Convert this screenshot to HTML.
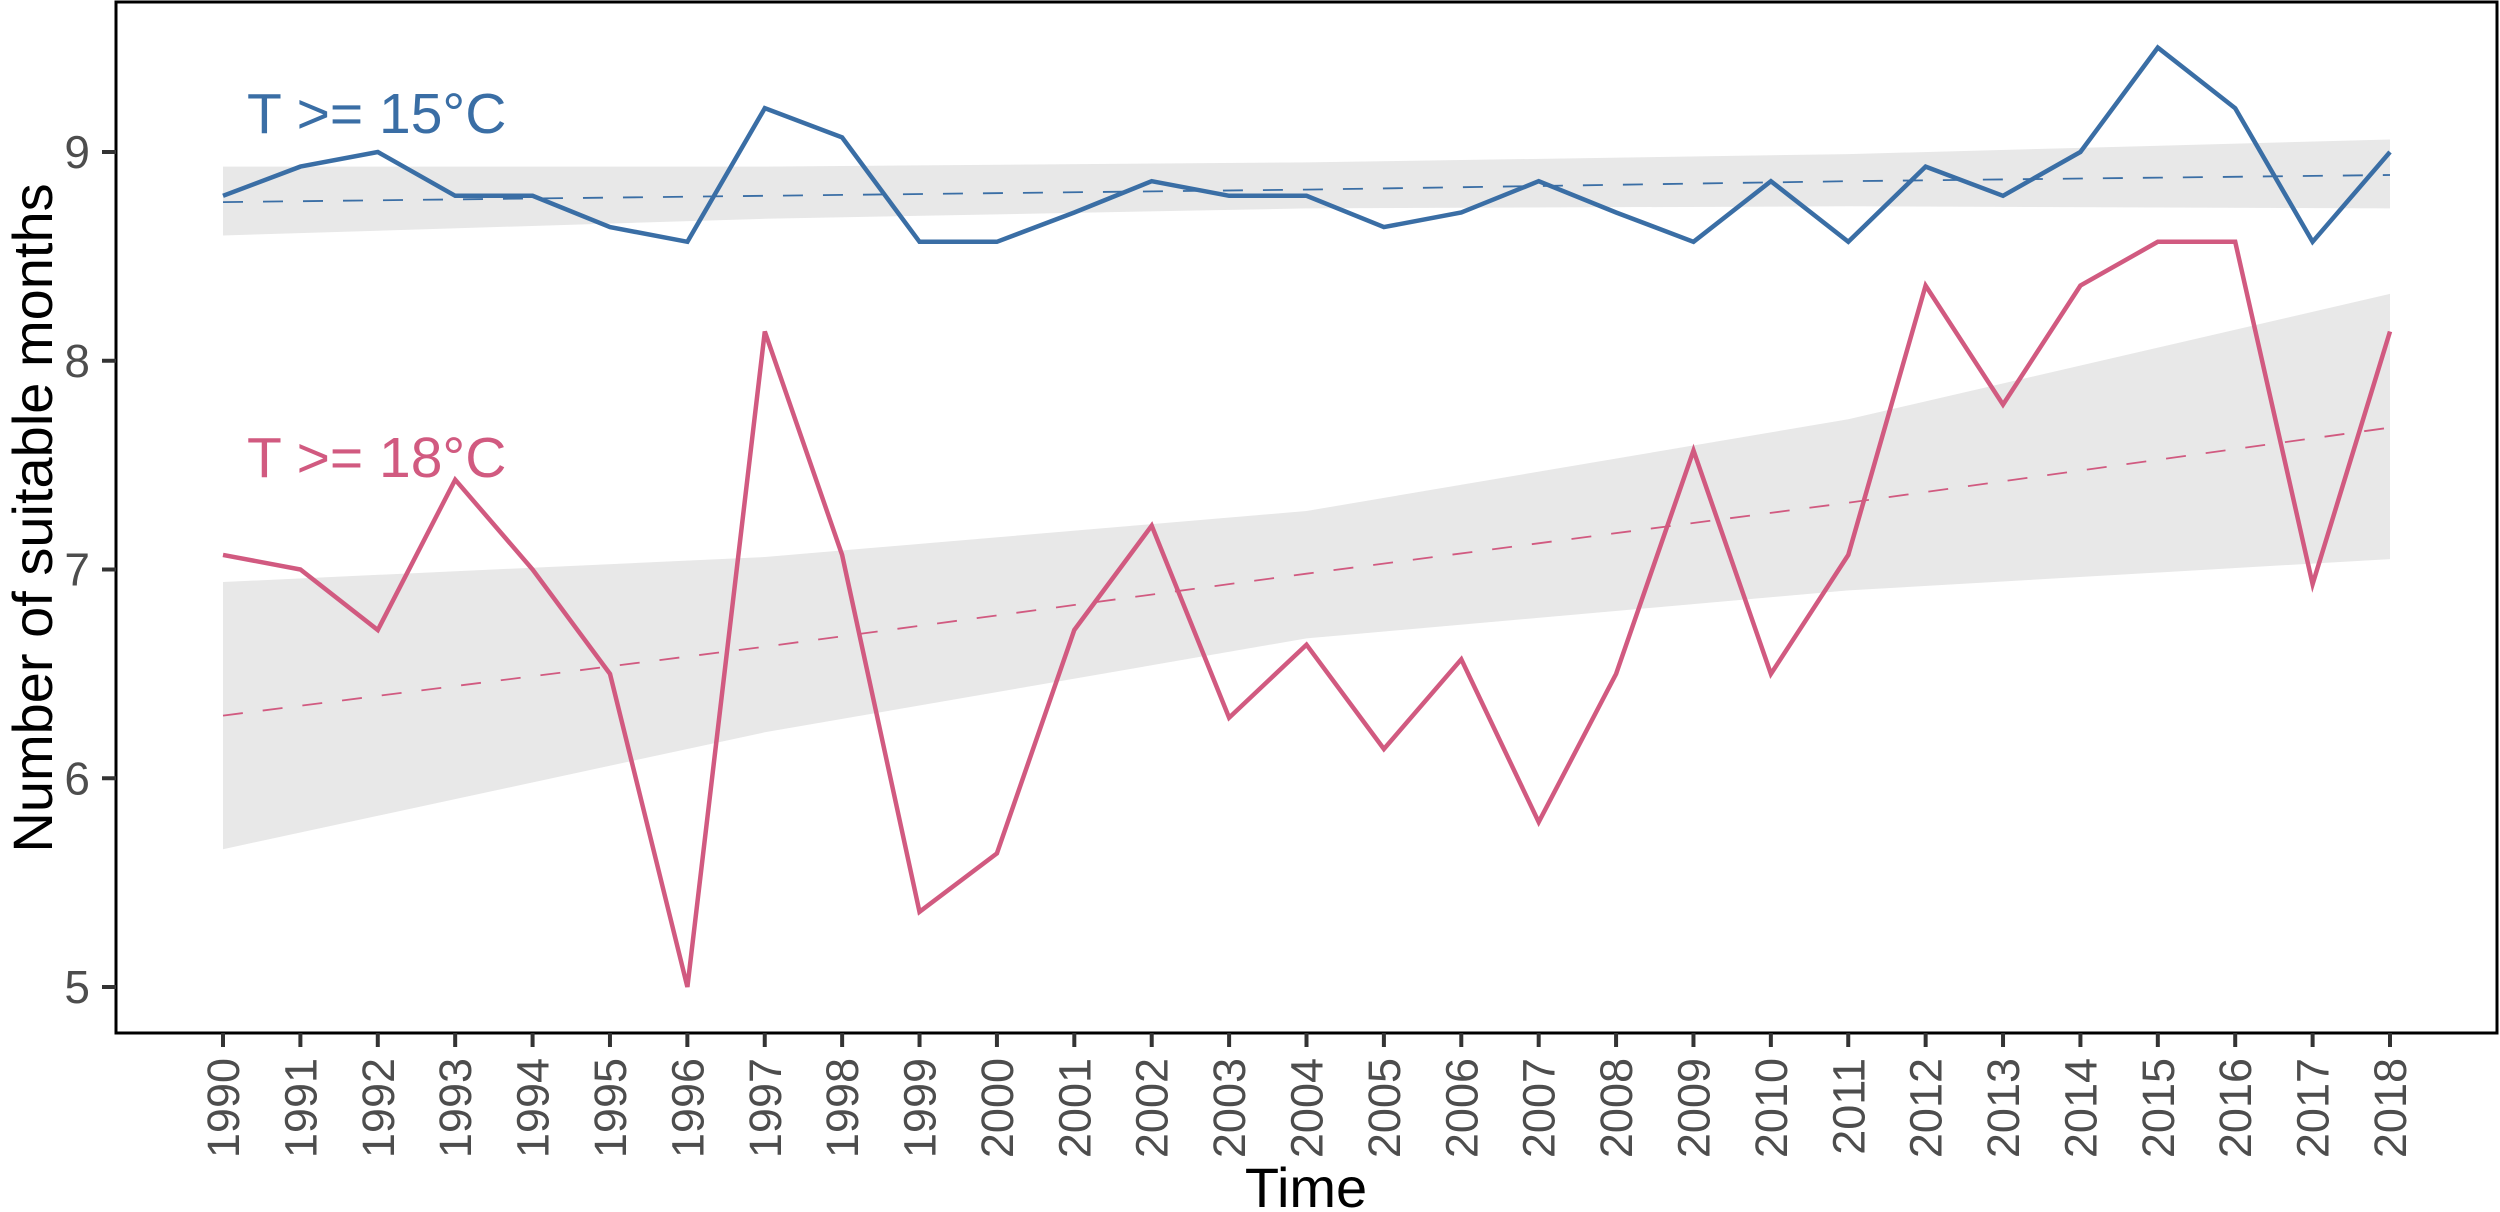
<!DOCTYPE html>
<html><head><meta charset="utf-8"><style>
html,body{margin:0;padding:0;background:#fff;}
svg{display:block;font-family:"Liberation Sans",Arial,sans-serif;}
</style></head><body>
<svg id="chart" width="2500" height="1212" viewBox="0 0 2500 1212">
<rect x="0" y="0" width="2500" height="1212" fill="#fff"/>
<g id="ribbons"></g>
<g id="trends"></g>
<g id="series"></g>
<rect x="116" y="2" width="2381" height="1031" fill="none" stroke="#000" stroke-width="3"/>
<g id="yaxis"></g>
<g id="xaxis"></g>
<text x="247" y="133" font-size="57" fill="#3A6EA5">T &gt;= 15°C</text>
<text x="247" y="477" font-size="57" fill="#D15A80">T &gt;= 18°C</text>
<text x="1306" y="1207" font-size="56" text-anchor="middle" fill="#000">Time</text>
<text x="0" y="0" font-size="56" text-anchor="middle" fill="#000" transform="translate(52,518) rotate(-90)">Number of suitable months</text>
</svg>
<script>
const years=[1990,1991,1992,1993,1994,1995,1996,1997,1998,1999,2000,2001,2002,2003,2004,2005,2006,2007,2008,2009,2010,2011,2012,2013,2014,2015,2016,2017,2018];
const blueValues=[8.79,8.93,9.0,8.79,8.79,8.64,8.57,9.21,9.07,8.57,8.57,8.71,8.86,8.79,8.79,8.64,8.71,8.86,8.71,8.57,8.86,8.57,8.93,8.79,9.0,9.5,9.21,8.57,9.0];
const pinkValues=[7.07,7.0,6.71,7.43,7.0,6.5,5.0,8.14,7.07,5.36,5.64,6.71,7.21,6.29,6.64,6.14,6.57,5.79,6.5,7.57,6.5,7.07,8.36,7.79,8.36,8.57,8.57,6.93,8.14];
const fitYears=[1990,1997,2004,2011,2018];
const blueFit=[8.76,8.79,8.82,8.86,8.89];
const blueUpper=[8.93,8.93,8.95,8.99,9.06];
const blueLower=[8.60,8.68,8.73,8.74,8.73];
const pinkFit=[6.30,6.63,6.98,7.32,7.68];
const pinkUpper=[6.94,7.06,7.28,7.72,8.32];
const pinkLower=[5.66,6.22,6.67,6.90,7.05];
const yTicks=[5,6,7,8,9];
const BLUE="#3A6EA5",PINK="#D15A80";
const NS="http://www.w3.org/2000/svg";
function xs(y){return 223+(y-1990)*(2390-223)/28;}
function ys(v){return 987-(v-5)*(987-152)/4;}
function mk(t,attrs,parent){const e=document.createElementNS(NS,t);for(const k in attrs)e.setAttribute(k,attrs[k]);parent.appendChild(e);return e;}
function pts(xa,va){return xa.map((x,i)=>xs(x).toFixed(1)+","+ys(va[i]).toFixed(1)).join(" ");}
const rib=document.getElementById('ribbons'),tr=document.getElementById('trends'),se=document.getElementById('series');
[[blueUpper,blueLower,'ribbon-15c'],[pinkUpper,pinkLower,'ribbon-18c']].forEach(([u,l,n])=>{
  const p=pts(fitYears,u)+" "+pts(fitYears.slice().reverse(),l.slice().reverse());
  const e=mk('polygon',{points:p,fill:'#E8E8E8'},rib);
  
  
});
[[blueFit,BLUE,'trend-15c'],[pinkFit,PINK,'trend-18c']].forEach(([f,c,n])=>{
  const e=mk('polyline',{points:pts(fitYears,f),fill:'none',stroke:c,'stroke-width':1.8,'stroke-dasharray':'20 20'},tr);
  
  
});
[[blueValues,BLUE,'line-15c'],[pinkValues,PINK,'line-18c']].forEach(([v,c,n])=>{
  const e=mk('polyline',{points:pts(years,v),fill:'none',stroke:c,'stroke-width':4.5,'stroke-linejoin':'miter'},se);
  
  
});
const ya=document.getElementById('yaxis');
yTicks.forEach(t=>{
  const l=mk('line',{x1:102,x2:116,y1:ys(t),y2:ys(t),stroke:'#333','stroke-width':4},ya);
  
  
  const tx=mk('text',{x:90,y:ys(t)+16,'font-size':46,'text-anchor':'end',fill:'#4D4D4D'},ya);
  tx.textContent=t;
  
  
});
const xa=document.getElementById('xaxis');
years.forEach(y=>{
  const l=mk('line',{x1:xs(y),x2:xs(y),y1:1033,y2:1047,stroke:'#333','stroke-width':4},xa);
  
  
  const tx=mk('text',{x:0,y:0,'font-size':45,'text-anchor':'end',fill:'#4D4D4D',transform:`translate(${xs(y)+16},1058) rotate(-90)`},xa);
  tx.textContent=y;
  
  
});
</script>
</body></html>
